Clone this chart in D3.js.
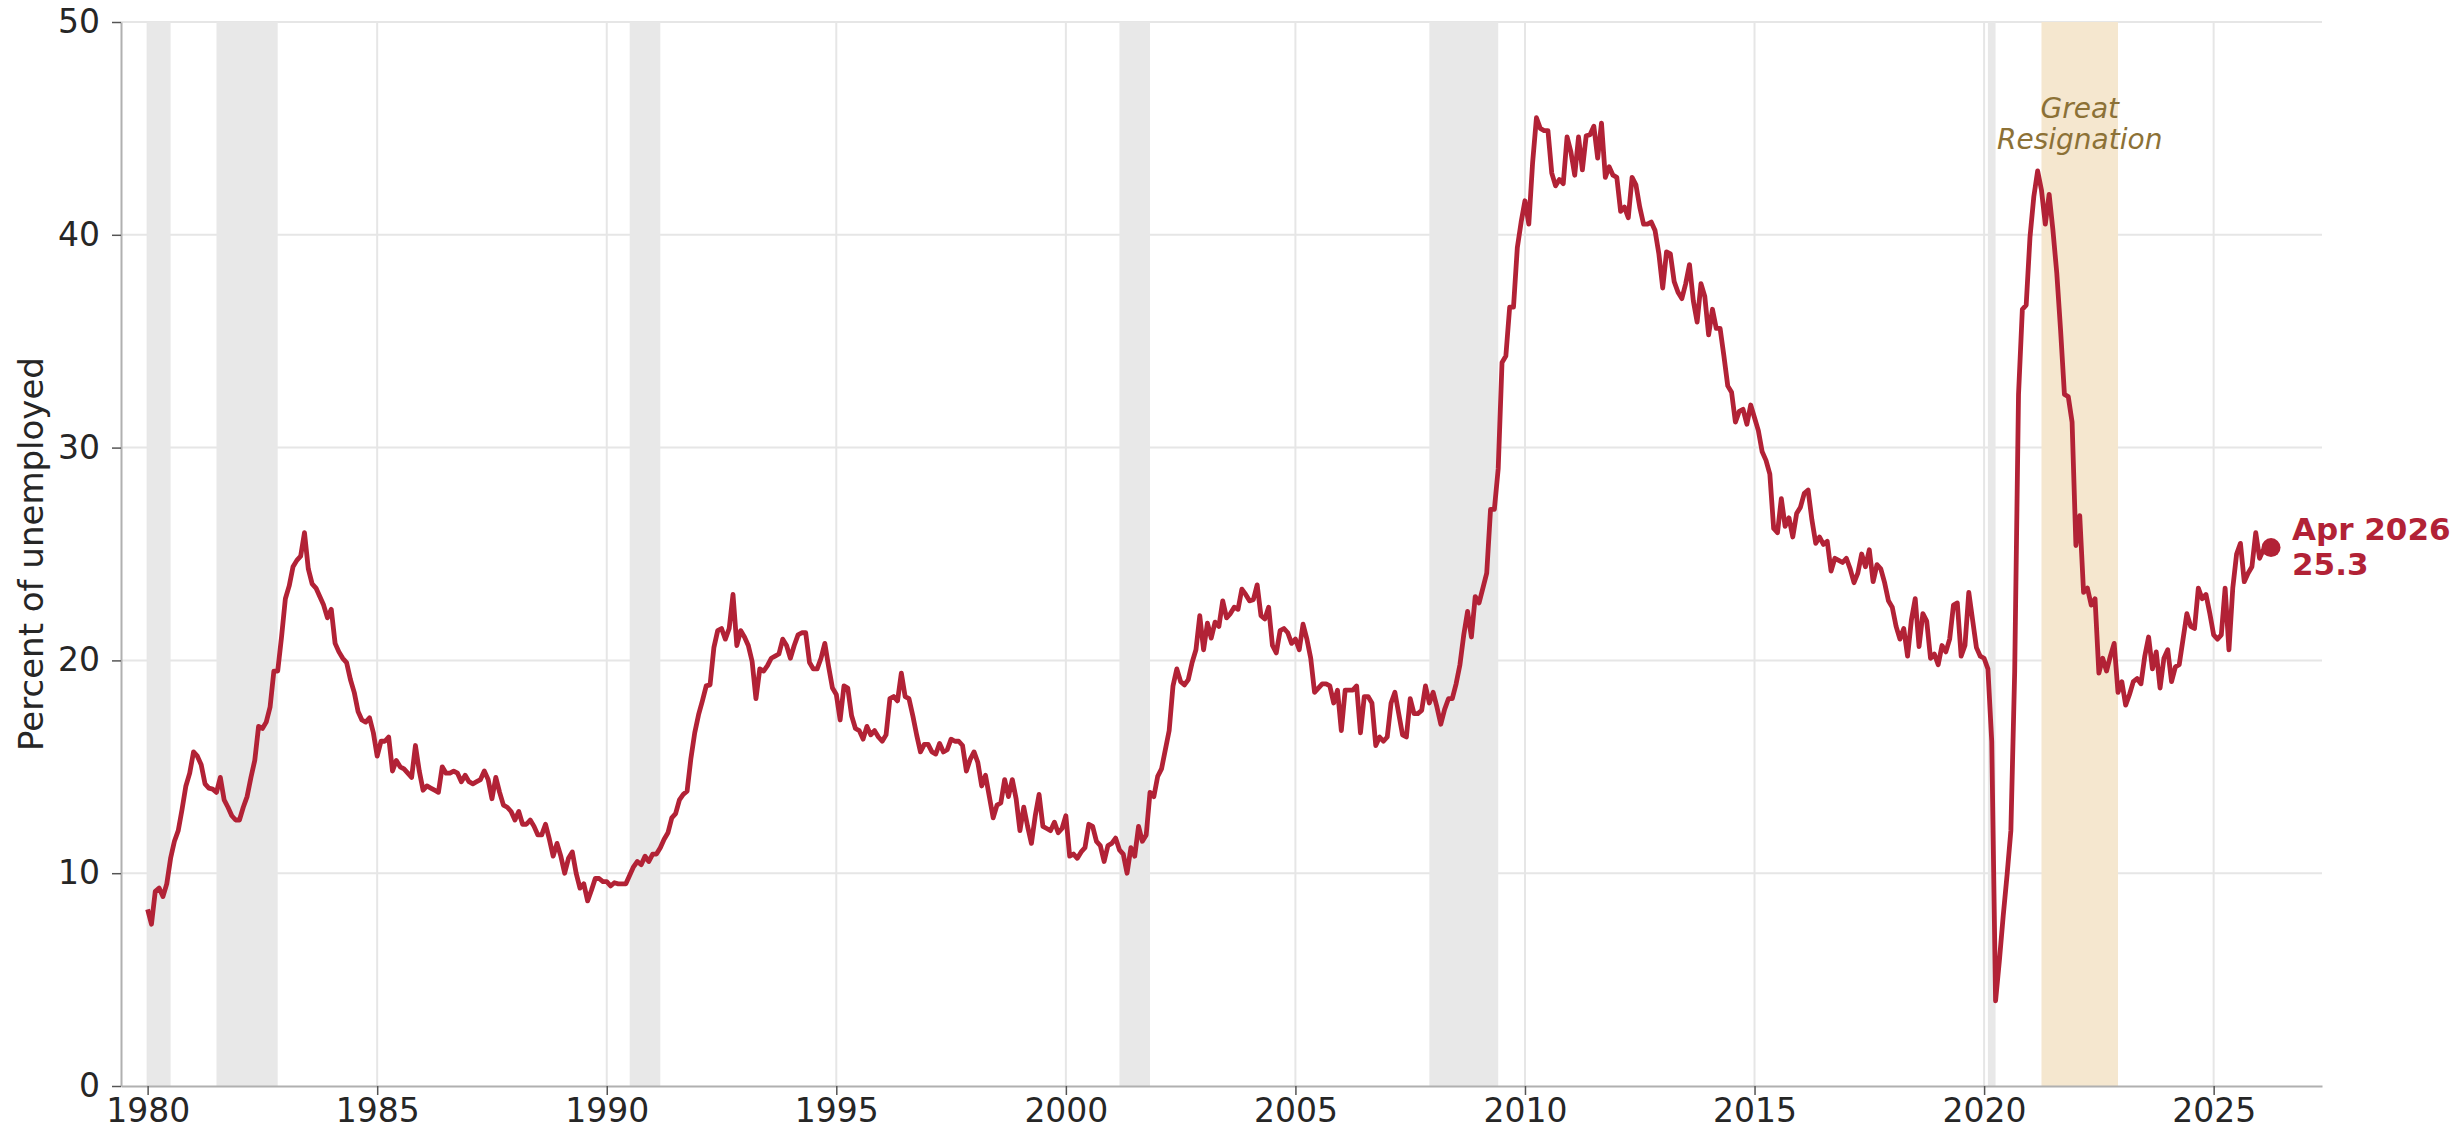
<!DOCTYPE html>
<html>
<head>
<meta charset="utf-8">
<script src="https://cdn.jsdelivr.net/npm/d3@7"></script>
<style>
  body { margin: 0; background: #fff; }
  text { font-family: "DejaVu Sans", sans-serif; }
  .grid line { stroke: #e6e6e6; stroke-width: 2; }
  .axis path.domain { stroke: #b0b0b0; stroke-width: 2; }
  .axis .tick line { stroke: #555; stroke-width: 1.5; }
  .axis .tick text { font-size: 33px; fill: #262626; font-family: "DejaVu Sans", sans-serif; }
  .recession { fill: #e8e8e8; }
  .resignation { fill: #f5e7cf; }
  .line { fill: none; stroke: #b22236; stroke-width: 4.8; stroke-linejoin: round; }
</style>
</head>
<body>
<div id="chart"></div>
<script>
// Share of the unemployed who have been out of work 27 weeks or longer, monthly, Jan 1980 - Apr 2026
var firstYear = 1980;
var longTermShare = [
  8.3, 7.6, 9.15, 9.3, 8.9, 9.5, 10.7, 11.5, 12.0, 13.0, 14.1, 14.7,          // 1980
  15.7, 15.5, 15.1, 14.2, 14.0, 13.95, 13.8, 14.5, 13.45, 13.1, 12.7, 12.5,   // 1981
  12.5, 13.1, 13.6, 14.5, 15.3, 16.9, 16.8, 17.1, 17.8, 19.5, 19.5, 21.1,     // 1982
  22.9, 23.5, 24.4, 24.7, 24.9, 26.0, 24.3, 23.6, 23.4, 23.0, 22.6, 22.0,     // 1983
  22.4, 20.8, 20.4, 20.1, 19.9, 19.1, 18.5, 17.6, 17.2, 17.1, 17.3, 16.6,     // 1984
  15.5, 16.2, 16.2, 16.4, 14.8, 15.3, 15.0, 14.9, 14.7, 14.5, 16.0, 14.8,     // 1985
  13.9, 14.1, 14.0, 13.9, 13.8, 15.0, 14.7, 14.7, 14.8, 14.7, 14.3, 14.6,     // 1986
  14.3, 14.2, 14.3, 14.4, 14.8, 14.4, 13.5, 14.5, 13.8, 13.2, 13.1, 12.9,     // 1987
  12.5, 12.9, 12.3, 12.3, 12.5, 12.2, 11.8, 11.8, 12.3, 11.6, 10.8, 11.4,     // 1988
  10.8, 10.0, 10.7, 11.0, 10.0, 9.3, 9.5, 8.7, 9.2, 9.75, 9.75, 9.6,          // 1989
  9.6, 9.4, 9.55, 9.5, 9.5, 9.5, 9.9, 10.3, 10.55, 10.4, 10.8, 10.55,         // 1990
  10.9, 10.9, 11.2, 11.6, 11.9, 12.6, 12.8, 13.45, 13.7, 13.85, 15.4, 16.6,   // 1991
  17.45, 18.1, 18.8, 18.85, 20.6, 21.4, 21.5, 21.0, 21.5, 23.1, 20.7, 21.4,   // 1992
  21.1, 20.7, 19.95, 18.2, 19.6, 19.5, 19.75, 20.1, 20.2, 20.3, 21.0, 20.7,   // 1993
  20.1, 20.7, 21.2, 21.3, 21.3, 19.9, 19.6, 19.6, 20.1, 20.8, 19.7, 18.7,     // 1994
  18.4, 17.2, 18.8, 18.7, 17.4, 16.8, 16.7, 16.3, 16.9, 16.5, 16.7, 16.4,     // 1995
  16.2, 16.5, 18.2, 18.3, 18.1, 19.4, 18.3, 18.2, 17.4, 16.5, 15.7, 16.05,    // 1996
  16.05, 15.7, 15.6, 16.1, 15.7, 15.8, 16.3, 16.2, 16.2, 16.0, 14.8, 15.35,   // 1997
  15.7, 15.2, 14.1, 14.6, 13.6, 12.6, 13.2, 13.3, 14.4, 13.6, 14.4, 13.5,     // 1998
  12.0, 13.1, 12.2, 11.4, 12.7, 13.7, 12.2, 12.1, 12.0, 12.4, 11.9, 12.1,     // 1999
  12.7, 10.8, 10.9, 10.7, 11.0, 11.2, 12.3, 12.2, 11.5, 11.3, 10.55, 11.3,    // 2000
  11.4, 11.65, 11.1, 10.9, 10.0, 11.2, 10.8, 12.2, 11.5, 11.8, 13.8, 13.6,    // 2001
  14.55, 14.9, 15.8, 16.7, 18.8, 19.6, 19.0, 18.85, 19.1, 19.9, 20.5, 22.1,   // 2002
  20.5, 21.75, 21.05, 21.8, 21.6, 22.8, 22.0, 22.2, 22.5, 22.4, 23.35, 23.1,  // 2003
  22.8, 22.85, 23.55, 22.1, 21.95, 22.5, 20.7, 20.35, 21.4, 21.5, 21.3, 20.8, // 2004
  21.0, 20.5, 21.7, 21.0, 20.1, 18.5, 18.7, 18.9, 18.9, 18.8, 18.0, 18.6,     // 2005
  16.7, 18.6, 18.6, 18.6, 18.8, 16.6, 18.3, 18.3, 18.0, 16.0, 16.4, 16.2,     // 2006
  16.4, 18.0, 18.5, 17.5, 16.5, 16.4, 18.2, 17.5, 17.5, 17.65, 18.8, 18.0,    // 2007
  18.5, 17.8, 17.0, 17.7, 18.2, 18.2, 18.9, 19.8, 21.2, 22.3, 21.1, 23.0,     // 2008
  22.7, 23.4, 24.1, 27.1, 27.1, 29.0, 34.0, 34.3, 36.6, 36.6, 39.4, 40.6,     // 2009
  41.6, 40.5, 43.4, 45.5, 45.0, 44.9, 44.9, 42.9, 42.3, 42.6, 42.4, 44.6,     // 2010
  43.9, 42.8, 44.6, 43.05, 44.65, 44.7, 45.1, 43.6, 45.25, 42.7, 43.2, 42.8,  // 2011
  42.7, 41.1, 41.3, 40.8, 42.7, 42.35, 41.3, 40.5, 40.5, 40.6, 40.2, 39.1,    // 2012
  37.5, 39.2, 39.1, 37.8, 37.3, 37.0, 37.7, 38.6, 36.9, 35.9, 37.7, 37.1,     // 2013
  35.3, 36.5, 35.6, 35.6, 34.3, 32.9, 32.6, 31.2, 31.7, 31.8, 31.1, 32.0,     // 2014
  31.4, 30.8, 29.8, 29.4, 28.75, 26.2, 26.0, 27.6, 26.3, 26.7, 25.8, 26.9,    // 2015
  27.2, 27.85, 28.0, 26.6, 25.5, 25.8, 25.45, 25.6, 24.2, 24.8, 24.7, 24.6,   // 2016
  24.8, 24.3, 23.65, 24.1, 25.0, 24.4, 25.2, 23.7, 24.5, 24.3, 23.65, 22.8,   // 2017
  22.5, 21.6, 21.0, 21.5, 20.2, 21.9, 22.9, 20.65, 22.2, 21.85, 20.1, 20.3,   // 2018
  19.8, 20.7, 20.4, 21.0, 22.6, 22.7, 20.2, 20.7, 23.2, 21.9, 20.6, 20.2,     // 2019
  20.1, 19.6, 16.2, 4.0, 5.9, 8.0, 9.9, 12.0, 19.5, 32.5, 36.5, 36.7,         // 2020
  39.9, 41.8, 43.0, 42.1, 40.5, 41.9, 40.2, 38.2, 35.5, 32.5, 32.4, 31.2,     // 2021
  25.4, 26.8, 23.2, 23.4, 22.6, 22.9, 19.4, 20.1, 19.5, 20.2, 20.8, 18.5,     // 2022
  19.0, 17.9, 18.4, 19.0, 19.15, 18.9, 20.2, 21.1, 19.6, 20.4, 18.7, 20.1,    // 2023
  20.5, 19.0, 19.7, 19.8, 21.0, 22.2, 21.6, 21.5, 23.4, 22.9, 23.1, 22.2,     // 2024
  21.2, 21.0, 21.2, 23.4, 20.5, 23.4, 25.0, 25.5, 23.7, 24.1, 24.4, 26.0,     // 2025
  24.8, 25.2, 25.3, 25.3                                                      // 2026
];

// NBER recessions, as decimal years (start, end)
var recessions = [
  [1980.0, 1980.5],
  [1981.5, 1982.833],
  [1990.5, 1991.167],
  [2001.167, 2001.833],
  [2007.917, 2009.417],
  [2020.083, 2020.25]
];
var greatResignation = [2021.25, 2022.917];
var resignationLabel = ["Great", "Resignation"];

var yTicks = [0, 10, 20, 30, 40, 50];
var xTicks = [1980, 1985, 1990, 1995, 2000, 2005, 2010, 2015, 2020, 2025];
var lastLabel = ["Apr 2026", "25.3"];

var svg = d3.select("#chart").append("svg").attr("width", 2460).attr("height", 1138),
    margin = {top: 22, right: 138, bottom: 52, left: 121},
    width = +svg.attr("width") - margin.left - margin.right,
    height = +svg.attr("height") - margin.top - margin.bottom;

var x = d3.scaleLinear().domain([1979.42, 2027.36]).range([0, width]);
var y = d3.scaleLinear().domain([0, 50]).range([height, 0]);

var g = svg.append("g")
    .attr("transform", "translate(" + margin.left + "," + margin.top + ")");

var dateOf = function(i) { return firstYear + i / 12; };

// grid
var grid = g.append("g").attr("class", "grid");
grid.selectAll(".hgrid")
    .data(yTicks.filter(function(d) { return d > 0; }))
  .enter().append("line")
    .attr("x1", 0).attr("x2", width)
    .attr("y1", function(d) { return y(d); })
    .attr("y2", function(d) { return y(d); });
grid.selectAll(".vgrid")
    .data(xTicks)
  .enter().append("line")
    .attr("x1", function(d) { return x(d); })
    .attr("x2", function(d) { return x(d); })
    .attr("y1", 0).attr("y2", height);

// shaded periods
g.selectAll(".recession")
    .data(recessions)
  .enter().append("rect")
    .attr("class", "recession")
    .attr("x", function(d) { return x(d[0]); })
    .attr("width", function(d) { return x(d[1]) - x(d[0]); })
    .attr("y", 0)
    .attr("height", height);

g.append("rect")
    .attr("class", "resignation")
    .attr("x", x(greatResignation[0]))
    .attr("width", x(greatResignation[1]) - x(greatResignation[0]))
    .attr("y", 0)
    .attr("height", height);

var midResignation = (greatResignation[0] + greatResignation[1]) / 2;
g.append("text")
    .attr("x", x(midResignation))
    .attr("y", y(45.5))
    .attr("text-anchor", "middle")
    .style("font-size", "28px")
    .style("font-style", "italic")
    .attr("fill", "#8c7136")
  .selectAll("tspan")
    .data(resignationLabel)
  .enter().append("tspan")
    .attr("x", x(midResignation))
    .attr("dy", function(d, i) { return i ? 31 : 0; })
    .text(function(d) { return d; });

// axes
g.append("g")
    .attr("class", "axis axis--x")
    .attr("transform", "translate(0," + height + ")")
    .call(d3.axisBottom(x).tickValues(xTicks).tickFormat(d3.format("d")).tickSize(9).tickSizeOuter(0).tickPadding(4));

g.append("g")
    .attr("class", "axis axis--y")
    .call(d3.axisLeft(y).tickValues(yTicks).tickSize(9).tickSizeOuter(0).tickPadding(12));

g.append("text")
    .attr("transform", "translate(" + (31 - margin.left) + "," + (height / 2) + ") rotate(-90)")
    .attr("text-anchor", "middle")
    .attr("dy", "0.35em")
    .style("font-size", "34px")
    .attr("fill", "#262626")
    .text("Percent of unemployed");

// series
var line = d3.line()
    .x(function(d, i) { return x(dateOf(i)); })
    .y(function(d) { return y(d); });

g.append("path")
    .datum(longTermShare)
    .attr("class", "line")
    .attr("d", line);

// latest value
var lastIndex = longTermShare.length - 1,
    lastX = x(dateOf(lastIndex)),
    lastY = y(longTermShare[lastIndex]);

g.append("circle")
    .attr("cx", lastX)
    .attr("cy", lastY)
    .attr("r", 9.5)
    .attr("fill", "#b22236");

g.append("text")
    .attr("x", lastX + 21)
    .attr("y", lastY - 8)
    .style("font-size", "31px")
    .style("font-weight", "bold")
    .attr("fill", "#b22236")
  .selectAll("tspan")
    .data(lastLabel)
  .enter().append("tspan")
    .attr("x", lastX + 21)
    .attr("dy", function(d, i) { return i ? 35 : 0; })
    .text(function(d) { return d; });
</script>
</body>
</html>
